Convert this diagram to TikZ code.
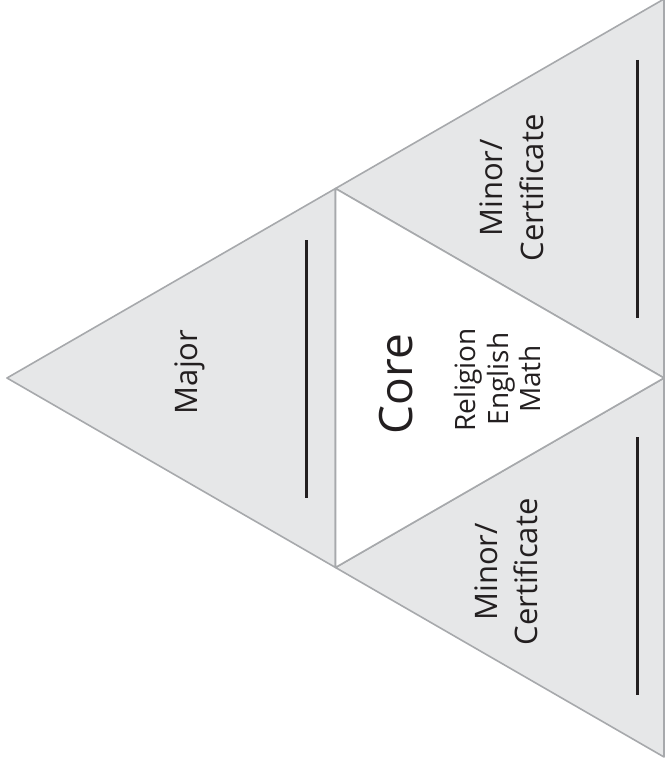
\documentclass[tikz,border=0pt]{standalone}
\usepackage{fontspec}
\setmainfont{Open Sans}
\usetikzlibrary{positioning}
\definecolor{panelgray}{HTML}{E6E7E8}
\definecolor{edgegray}{HTML}{A7A9AC}
\definecolor{inkgray}{HTML}{231F20}

\begin{document}
\begin{tikzpicture}[x=1pt,y=-1pt,
                    panel/.style={fill=panelgray,draw=edgegray,line width=1.6pt,line join=round},
                    writeline/.style={draw=inkgray,line width=3pt},
                    sidetext/.style={rotate=90,anchor=base,inner sep=0pt,text=inkgray,
                                     font=\fontsize{31}{37}\selectfont}]
  \useasboundingbox (0,0) rectangle (665,768);

  % corners and mid points of the big triangle
  \coordinate (apex) at (7,378);
  \coordinate (tr) at (664,-1);
  \coordinate (br) at (664,757);
  \coordinate (mt) at (335.5,188.5);
  \coordinate (mb) at (335.5,567.5);
  \coordinate (mr) at (664,378);

  \path[panel] (apex) -- (mt) -- (mb) -- cycle;
  \path[panel] (mt) -- (tr) -- (mr) -- cycle;
  \path[panel] (mb) -- (mr) -- (br) -- cycle;
  \path[panel,fill=white] (mt) -- (mr) -- (mb) -- cycle;

  % lines to write on
  \coordinate (majtop) at (306,240);
  \coordinate (majbot) at (306,498);
  \coordinate (mintop1) at (637,60);
  \coordinate (minbot1) at (637,318);
  \coordinate (mintop2) at (637,437);
  \coordinate (minbot2) at (637,695);
  \draw[writeline] (majtop) -- (majbot);
  \draw[writeline] (mintop1) -- (minbot1);
  \draw[writeline] (mintop2) -- (minbot2);

  \node[sidetext] (major) at (197,372) {Major};

  \node[sidetext] (minor1) at (502,188) {Minor/};
  \node[sidetext] (cert1) at (543,188) {Certificate};
  \node[sidetext] (minor2) at (497,572) {Minor/};
  \node[sidetext] (cert2) at (537,572) {Certificate};

  \node[sidetext,font=\fontsize{46}{52}\selectfont] (core) at (412,384) {Core};
  \node[sidetext,font=\fontsize{28}{33}\selectfont] (religion) at (475,380) {Religion};
  \node[sidetext,font=\fontsize{28}{33}\selectfont] (english) at (508,379) {English};
  \node[sidetext,font=\fontsize{28}{33}\selectfont] (math) at (540,379) {Math};
\end{tikzpicture}
\end{document}
